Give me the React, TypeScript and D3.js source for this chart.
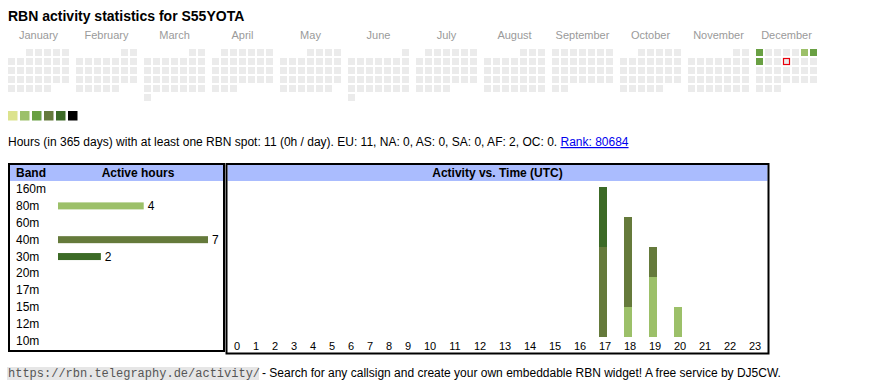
import { useMemo } from 'react'
import * as d3 from 'd3'

const YEAR = 2025
const MONTHS = ['January', 'February', 'March', 'April', 'May', 'June', 'July', 'August', 'September', 'October', 'November', 'December']
// daily activity level (index into LEVEL_COLORS, 1-based)
const DAY_DATES = ['2025-12-01', '2025-12-06', '2025-12-07', '2025-12-08']
const DAY_LEVELS = [3, 2, 3, 3]
const TODAY = '2025-12-11'
const LEVEL_COLORS = ['#dce38e', '#9cc069', '#69a043', '#657a3b', '#3c6a26', '#000000']

const BANDS = ['160m', '80m', '60m', '40m', '30m', '20m', '17m', '15m', '12m', '10m']
const BAND_HOURS = [0, 4, 0, 7, 2, 0, 0, 0, 0, 0]
const BAND_COLORS: Record<string, string> = { '80m': '#9cc069', '40m': '#657a3b', '30m': '#3c6a26' }

const HOURS = [0, 1, 2, 3, 4, 5, 6, 7, 8, 9, 10, 11, 12, 13, 14, 15, 16, 17, 18, 19, 20, 21, 22, 23]
const STACK_KEYS = ['80m', '40m', '30m']
const ACT_HOURS = [17, 17, 18, 18, 19, 19, 20]
const ACT_BANDS = ['40m', '30m', '80m', '40m', '80m', '40m', '80m']
const ACT_COUNTS = [3, 2, 1, 3, 2, 1, 1]

const SANS = '"Liberation Sans", Arial, sans-serif'
const MONO = '"Liberation Mono", "Courier New", monospace'

export default function App() {
  const fmt = d3.timeFormat('%Y-%m-%d')

  const days = useMemo(() => {
    const levelOf = new Map(DAY_DATES.map((d, i) => [d, DAY_LEVELS[i]]))
    return d3.timeDays(new Date(YEAR, 0, 1), new Date(YEAR + 1, 0, 1)).map(d => {
      const start = d3.timeMonth.floor(d)
      return {
        key: fmt(d),
        month: d.getMonth(),
        col: (d.getDay() + 6) % 7,
        row: d3.timeMonday.count(start, d),
        level: levelOf.get(fmt(d)) ?? 0,
      }
    })
  }, [])

  // calendar scales
  const xMonth = d3.scaleLinear().domain([0, 12]).range([8, 824])
  const xDay = d3.scaleLinear().domain([0, 7]).range([0, 63])
  const yWeek = d3.scaleLinear().domain([0, 6]).range([49, 103])
  const cell = 7

  // band table
  const yBand = d3.scalePoint<string>().domain(BANDS).range([189, 341])
  const xHours = d3.scaleLinear().domain([0, 7]).range([58, 208])

  // activity vs time
  const colW = HOURS.map(h => 13 + 6 * String(h).length)
  const lefts = [0, ...d3.cumsum(colW)]
  const xHourLeft = d3.scaleOrdinal<number, number>().domain(HOURS).range(HOURS.map(h => 227.5 + lefts[h]))
  const xHourCenter = (h: number) => xHourLeft(h) + colW[h] / 2
  const yAct = d3.scaleLinear().domain([0, 5]).range([337, 187])

  const table = HOURS.map(h => {
    const row: Record<string, number> = { hour: h }
    STACK_KEYS.forEach(k => { row[k] = 0 })
    ACT_HOURS.forEach((ah, i) => { if (ah === h) row[ACT_BANDS[i]] += ACT_COUNTS[i] })
    return row
  })
  const series = d3.stack<Record<string, number>>().keys(STACK_KEYS)(table)

  return (
    <svg width={870} height={390} style={{ position: 'absolute', left: 0, top: 0, fontFamily: SANS }}>
      <rect width={870} height={390} fill="#fff" />
      <text x={8} y={21} fontSize={14} fontWeight="bold" fill="#000">RBN activity statistics for S55YOTA</text>

      {/* calendar */}
      {MONTHS.map((m, i) => (
        <text key={m} x={xMonth(i) + 30.5} y={39} fontSize={11} fill="#9a9a9a" textAnchor="middle">{m}</text>
      ))}
      {days.map(d => (
        <rect key={d.key}
          x={xMonth(d.month) + xDay(d.col)} y={yWeek(d.row)}
          width={cell} height={cell}
          fill={d.level ? LEVEL_COLORS[d.level - 1] : '#ebebeb'} />
      ))}
      {days.filter(d => d.key === TODAY).map(d => (
        <rect key="today" x={xMonth(d.month) + xDay(d.col) + 0.5} y={yWeek(d.row) + 0.5}
          width={cell - 1} height={cell - 1} fill="none" stroke="#e8000b" strokeWidth={1.2} />
      ))}

      {/* legend */}
      {LEVEL_COLORS.map((c, i) => (
        <rect key={c} x={8 + i * 12} y={111} width={9.5} height={9.5} fill={c} />
      ))}

      <text x={8} y={146} fontSize={12} fill="#000">
        Hours (in 365 days) with at least one RBN spot: 11 (0h / day). EU: 11, NA: 0, AS: 0, SA: 0, AF: 2, OC: 0.{' '}
        <tspan fill="#0000ee" textDecoration="underline">Rank: 80684</tspan>
      </text>

      {/* band table */}
      <rect x={10} y={165} width={213} height={16} fill="#aabcfe" />
      <rect x={9} y={164} width={215} height={187} fill="none" stroke="#000" strokeWidth={2} />
      <text x={16} y={177} fontSize={12} fontWeight="bold">Band</text>
      <text x={138} y={177} fontSize={12} fontWeight="bold" textAnchor="middle">Active hours</text>
      {BANDS.map((b, i) => (
        <g key={b}>
          <text x={16} y={(yBand(b) ?? 0) + 4} fontSize={12}>{b}</text>
          {BAND_HOURS[i] > 0 && (
            <>
              <rect x={xHours(0)} y={(yBand(b) ?? 0) - 3.5} width={xHours(BAND_HOURS[i]) - xHours(0)} height={7}
                fill={BAND_COLORS[b]} />
              <text x={xHours(BAND_HOURS[i]) + 4} y={(yBand(b) ?? 0) + 4} fontSize={12}>{BAND_HOURS[i]}</text>
            </>
          )}
        </g>
      ))}

      {/* activity vs time */}
      <rect x={227.5} y={165} width={540} height={16} fill="#aabcfe" />
      <rect x={226.5} y={164} width={542} height={189.5} fill="none" stroke="#000" strokeWidth={2} />
      <text x={497.5} y={177} fontSize={12} fontWeight="bold" textAnchor="middle">Activity vs. Time (UTC)</text>
      {series.map(s => (
        <g key={s.key} fill={BAND_COLORS[s.key]}>
          {s.filter(p => p[1] > p[0]).map(p => (
            <rect key={p.data.hour} x={xHourCenter(p.data.hour) - 6} y={yAct(p[1])}
              width={8} height={yAct(p[0]) - yAct(p[1])} />
          ))}
        </g>
      ))}
      {HOURS.map(h => (
        <text key={h} x={xHourCenter(h)} y={349.5} fontSize={11} textAnchor="middle">{h}</text>
      ))}

      {/* footer */}
      <rect x={7} y={367} width={252} height={13} fill="#e6e6e6" />
      <text x={8} y={377} fontSize={12} fontFamily={MONO} fill="#555">https://rbn.telegraphy.de/activity/</text>
      <text x={262} y={377} fontSize={12} fill="#000"> - Search for any callsign and create your own embeddable RBN widget! A free service by DJ5CW.</text>
    </svg>
  )
}
